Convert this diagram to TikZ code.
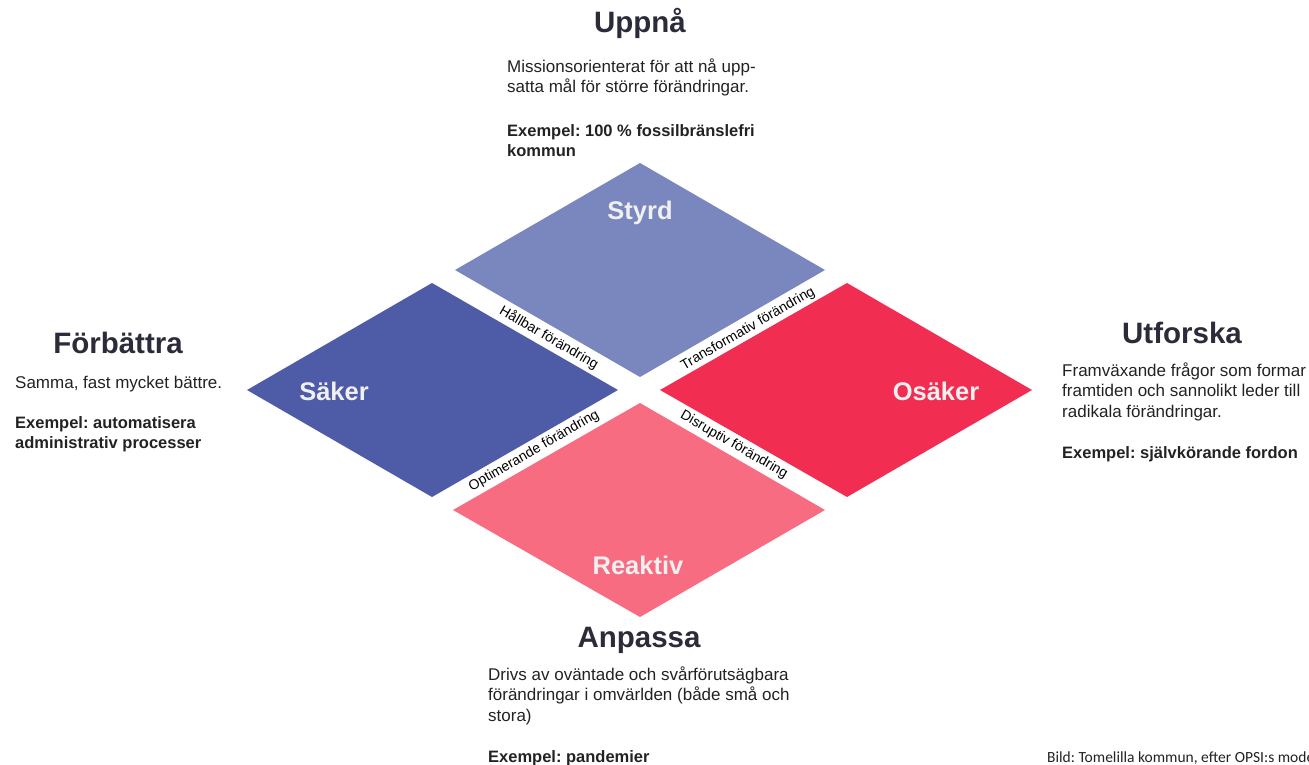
\documentclass[tikz,border=0pt]{standalone}
\usepackage{fontspec}
\setmainfont{Liberation Sans}
\newfontfamily\creditfont{Carlito}
\frenchspacing
\definecolor{cStyrd}{HTML}{7A86BE}
\definecolor{cSaker}{HTML}{4E5BA7}
\definecolor{cOsaker}{HTML}{F12D52}
\definecolor{cReaktiv}{HTML}{F76C80}
\definecolor{cHead}{HTML}{2B2B3A}
\definecolor{cBody}{HTML}{222222}
\definecolor{cInner}{HTML}{F0F0F0}
\begin{document}
\begin{tikzpicture}[x=1pt,y=-1pt,
  head/.style={inner sep=0pt,anchor=base,text=cHead,font=\fontsize{29.5}{33}\selectfont\bfseries},
  body/.style={inner sep=0pt,anchor=base west,text=cBody,font=\fontsize{17}{20}\selectfont},
  bodyb/.style={body,font=\fontsize{16.5}{20}\selectfont\bfseries},
  inner/.style={inner sep=0pt,anchor=base,text=cInner,font=\fontsize{25.5}{28}\selectfont\bfseries},
  edgelab/.style={inner sep=0pt,anchor=center,text=black,font=\fontsize{14}{16}\selectfont}]
\path[use as bounding box] (0,0) rectangle (1309,765);
\clip (0,0) rectangle (1309,765);
% diamonds
\fill[cStyrd] (640,163) -- (825,270) -- (640,377) -- (455,270) -- cycle;
\fill[cSaker] (432,283) -- (618,390) -- (432,497) -- (247,390) -- cycle;
\fill[cOsaker] (847,283) -- (1032,390) -- (847,497) -- (660,390) -- cycle;
\fill[cReaktiv] (640,403) -- (825,510) -- (640,617) -- (453,510) -- cycle;
% diamond labels
\node[inner] (styrd) at (640,219) {Styrd};
\node[inner] (saker) at (334,400) {Säker};
\node[inner] (osaker) at (936,400) {Osäker};
\node[inner] (reaktiv) at (638,574) {Reaktiv};
% edge labels
\node[edgelab,rotate=-30] (hallbar) at (549,338) {Hållbar förändring};
\node[edgelab,rotate=30] (transf) at (748,329) {Transformativ förändring};
\node[edgelab,rotate=30] (optim) at (534,451) {Optimerande förändring};
\node[edgelab,rotate=-30] (disr) at (734,445) {Disruptiv förändring};
% Uppnå
\node[head] (uppna) at (640,33) {Uppnå};
\node[body] (u1) at (507,73) {Missionsorienterat för att nå upp-};
\node[body] (u2) at (507,93) {satta mål för större förändringar.};
\node[bodyb] (u3) at (507,136) {Exempel: 100 \% fossilbränslefri};
\node[bodyb] (u4) at (507,157) {kommun};
% Förbättra
\node[head] (forb) at (118,353) {Förbättra};
\node[body] (f1) at (15,388) {Samma, fast mycket bättre.};
\node[bodyb] (f2) at (15,428) {Exempel: automatisera};
\node[bodyb] (f3) at (15,448) {administrativ processer};
% Utforska
\node[head] (utf) at (1182,343) {Utforska};
\node[body] (t1) at (1062,376) {Framväxande frågor som formar};
\node[body] (t2) at (1062,396) {framtiden och sannolikt leder till};
\node[body] (t3) at (1062,417) {radikala förändringar.};
\node[bodyb] (t4) at (1062,458) {Exempel: självkörande fordon};
% Anpassa
\node[head] (anp) at (639,647) {Anpassa};
\node[body] (a1) at (488,680) {Drivs av oväntade och svårförutsägbara};
\node[body] (a2) at (488,700) {förändringar i omvärlden (både små och};
\node[body] (a3) at (488,721) {stora)};
\node[bodyb] (a4) at (488,762) {Exempel: pandemier};
% credit
\node[inner sep=0pt,anchor=base west,text=cBody,font=\creditfont\fontsize{15.5}{18}\selectfont] (credit) at (1047,762) {Bild: Tomelilla kommun, efter OPSI:s modell};
\end{tikzpicture}
\end{document}
